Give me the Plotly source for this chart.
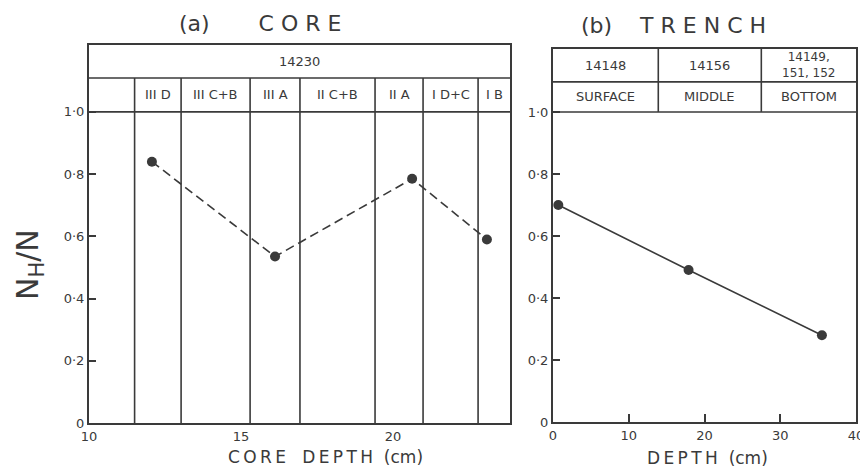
import plotly.graph_objects as go

# (a) core, sample 14230
core_depth = [12.07, 16.12, 20.63, 23.09]
core_ratio = [0.84, 0.535, 0.785, 0.59]
core_edges = [10, 11.5, 13.03, 15.3, 16.94, 19.41, 20.99, 22.8, 23.85]
core_units = ["", "III D", "III C+B", "III A", "II C+B", "II A", "I D+C", "I B"]
core_sample = "14230"

# (b) trench
trench_depth = [0.7, 17.9, 35.5]
trench_ratio = [0.70, 0.49, 0.28]
trench_edges = [0, 13.9, 27.5, 40]
trench_samples = ["14148", "14156", "14149,<br>151, 152"]
trench_levels = ["SURFACE", "MIDDLE", "BOTTOM"]

y_ticks = [0, 0.2, 0.4, 0.6, 0.8, 1.0]
y_tick_text = ["0", "0·2", "0·4", "0·6", "0·8", "1·0"]

INK = "#3a3a3a"
FONT = "DejaVu Sans"
# page body has an 8px margin, so the figure is drawn 8px in from the window edge
OFF = 8
W, H = 868 - OFF, 472 - OFF


def px(x):
    return (x - OFF) / W


def py(y):
    return 1 - (y - OFF) / H


fig = go.Figure()
fig.add_trace(go.Scatter(
    x=core_depth, y=core_ratio, mode="lines+markers",
    line=dict(color=INK, width=1.6, dash="9px,5px"),
    marker=dict(color=INK, size=10),
    xaxis="x", yaxis="y", showlegend=False,
))
fig.add_trace(go.Scatter(
    x=trench_depth, y=trench_ratio, mode="lines+markers",
    line=dict(color=INK, width=1.6),
    marker=dict(color=INK, size=10),
    xaxis="x2", yaxis="y2", showlegend=False, cliponaxis=False,
))

core_top, core_mid = 1.215, 1.109
trench_top, trench_mid = 1.203, 1.097

axis_common = dict(
    showline=True, linecolor=INK, linewidth=2, mirror=True,
    showgrid=False, zeroline=False, automargin=False,
    tickfont=dict(family=FONT, size=13, color=INK),
)

shapes = []
line_style = dict(color=INK, width=1.6)
# core header + dividers
for yv in (1.0, core_mid):
    shapes.append(dict(type="line", xref="x domain", yref="y", x0=0, x1=1,
                       y0=yv, y1=yv, line=line_style))
for xv in core_edges[1:-1]:
    shapes.append(dict(type="line", xref="x", yref="y", x0=xv, x1=xv,
                       y0=0, y1=core_mid, line=line_style))
# trench header
for yv in (1.0, trench_mid):
    shapes.append(dict(type="line", xref="x2 domain", yref="y2", x0=0, x1=1,
                       y0=yv, y1=yv, line=line_style))
for xv in trench_edges[1:-1]:
    shapes.append(dict(type="line", xref="x2", yref="y2", x0=xv, x1=xv,
                       y0=1.0, y1=trench_top, line=line_style))

ann = []
txt = dict(family=FONT, size=13, color=INK)
ann.append(dict(x=0.5, xref="x domain", y=(core_mid + core_top) / 2, yref="y",
                text=core_sample, showarrow=False, font=txt))
for i, label in enumerate(core_units):
    if label:
        ann.append(dict(x=(core_edges[i] + core_edges[i + 1]) / 2, xref="x",
                        y=(1.0 + core_mid) / 2, yref="y", text=label,
                        showarrow=False, font=txt))
for i in range(len(trench_samples)):
    cx = (trench_edges[i] + trench_edges[i + 1]) / 2
    ann.append(dict(x=cx, xref="x2", y=(trench_mid + trench_top) / 2, yref="y2",
                    text=trench_samples[i], showarrow=False,
                    font=dict(family=FONT, size=13 if i < 2 else 12, color=INK)))
    ann.append(dict(x=cx, xref="x2", y=(1.0 + trench_mid) / 2, yref="y2",
                    text=trench_levels[i], showarrow=False, font=txt))

big = dict(family=FONT, size=22, color=INK)
sm = dict(family=FONT, size=17, color=INK)
ts = "\u2009"
for x, y, text, font in [
    (260, 23, "(a)" + " " * 7 + "C O R E", big),
    (673, 25, "(b)" + " " * 4 + "T R E N C H", big),
    (325, 457, ts.join("CORE") + "   " + ts.join("DEPTH") + "  (cm)", sm),
    (707, 458, ts.join("DEPTH") + "  (cm)", sm),
]:
    ann.append(dict(x=px(x), y=py(y), xref="paper", yref="paper", text=text,
                    xanchor="center", yanchor="middle", showarrow=False, font=font))
ann.append(dict(x=px(29), y=py(265), xref="paper", yref="paper",
                text="N<sub>H</sub>/N", textangle=-90, showarrow=False,
                xanchor="center", yanchor="middle",
                font=dict(family=FONT, size=30, color=INK)))

fig.update_layout(
    width=W, height=H,
    margin=dict(l=0, r=0, t=0, b=0),
    paper_bgcolor="white", plot_bgcolor="white",
    xaxis=dict(domain=[px(89), px(510)], range=[core_edges[0], core_edges[-1]],
               tickvals=[10, 15, 20], ticks="", **axis_common),
    yaxis=dict(domain=[py(423), py(45)], range=[0, core_top],
               tickvals=y_ticks, ticktext=y_tick_text, ticks="inside",
               ticklen=7, tickcolor=INK, tickwidth=1.5, ticklabelstandoff=0,
               **axis_common),
    xaxis2=dict(domain=[px(553), px(856)], range=[0, 40], anchor="y2",
                tickvals=[0, 10, 20, 30, 40], ticks="inside", ticklen=8,
                tickcolor=INK, tickwidth=1.5, **axis_common),
    yaxis2=dict(domain=[py(422), py(49)], range=[0, trench_top], anchor="x2",
                tickvals=y_ticks, ticktext=y_tick_text, ticks="inside",
                ticklen=7, tickcolor=INK, tickwidth=1.5, ticklabelstandoff=0,
                **axis_common),
    shapes=shapes,
    annotations=ann,
)

fig.write_html("out.html")
